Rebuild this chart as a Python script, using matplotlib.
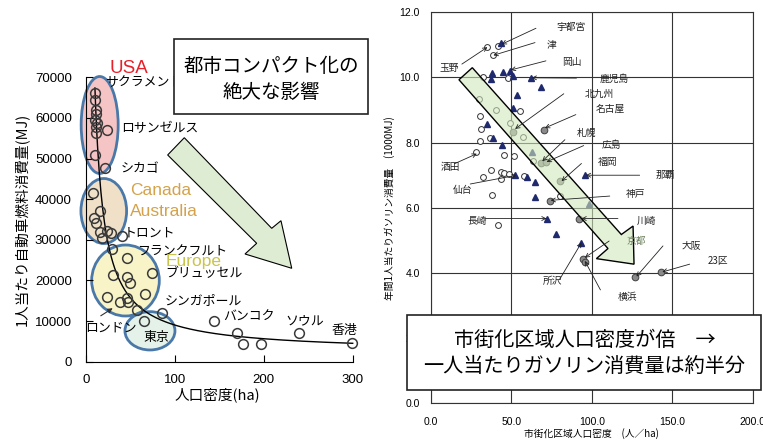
import matplotlib
matplotlib.use("Agg")
import numpy as np
import matplotlib.pyplot as plt
from matplotlib.patches import Ellipse, Polygon, Rectangle

plt.rcParams['font.family'] = ['Liberation Sans', 'Noto Sans CJK JP']
JP = ['Noto Sans CJK JP', 'DejaVu Sans']

# ---- 左: 世界の都市 (人口密度 ha, 1人当たり自動車燃料消費量 MJ)
usa_x = [10.4, 10.4, 11.2, 11.2, 10.4, 12.4, 11.2, 23.6, 11.2, 10.4, 22.0]
usa_y = [66200, 64300, 61950, 60960, 59490, 58830, 57840, 57030, 56210, 50870, 47700]
can_x = [8.6, 16.1, 9.5, 12.0, 16.1, 24.0, 28.0, 18.0, 40.4]
can_y = [41600, 37200, 35300, 34200, 32000, 32200, 31800, 30500, 31000]
eu_x = [29.2, 46.1, 74.2, 31.0, 46.1, 49.8, 23.6, 66.6, 38.5, 46.1, 47.9, 57.3]
eu_y = [27660, 25450, 21900, 21340, 20770, 19450, 15850, 16660, 14770, 15600, 14770, 12720]
asia_x = [65.5, 86.0, 144.2, 170.3, 176.4, 196.6, 240.0, 298.9]
asia_y = [10090, 11900, 10100, 6980, 4360, 4360, 7140, 4680]
trend_a, trend_c = 675000, 2280   # y = a/x + c

# ---- 右: 日本の都市 (市街化区域人口密度, 年間1人当たりガソリン消費量 1000MJ)
open_x = [35.1, 41.9, 38.8, 32.2, 48.1, 30.0, 40.5, 55.4, 30.2, 49.2, 31.0, 36.4, 57.4, 30.2,
          28.1, 45.7, 51.7, 63.2, 37.2, 32.2, 43.4, 45.7, 48.3, 43.4, 57.9, 37.8, 80.2, 41.8]
open_y = [10.95, 10.98, 10.68, 10.02, 9.99, 9.34, 9.01, 8.98, 8.83, 8.60, 8.42, 8.14, 8.16, 8.05,
          7.72, 7.62, 7.59, 7.44, 7.15, 6.95, 7.09, 7.06, 7.04, 6.87, 6.97, 6.38, 6.36, 5.48]
tri_x = [43.5, 37.8, 37.2, 45.0, 49.2, 51.2, 62.2, 68.4, 53.3, 51.2, 34.7, 38.8, 44.0, 62.6,
         52.3, 59.5, 64.7, 64.7, 95.7, 98.3, 71.9, 77.6, 93.2]
tri_y = [11.05, 10.15, 9.96, 10.18, 10.21, 10.05, 9.99, 9.70, 9.45, 9.06, 8.57, 8.14, 7.94, 7.70,
         7.00, 6.95, 6.79, 6.34, 7.00, 6.13, 5.67, 5.21, 4.92]
gray_x = [50.8, 70.2, 68.2, 71.5, 80.2, 74.0, 92.1, 94.6, 95.5, 126.7, 142.9]
gray_y = [8.33, 8.40, 7.36, 7.40, 6.81, 6.20, 5.67, 4.42, 4.35, 3.88, 4.02]

W, H = 763, 443
fig = plt.figure(figsize=(W / 100, H / 100), dpi=100)

# ================= 左パネル
ax1 = fig.add_axes([85.7 / W, 1 - 361.7 / H, 267 / W, 284.4 / H])
ax1.set_xlim(0, 300)
ax1.set_ylim(0, 70000)
for s in ['top', 'right']:
    ax1.spines[s].set_visible(False)
ax1.set_xticks([0, 100, 200, 300])
ax1.set_yticks(np.arange(0, 70001, 10000))
ax1.tick_params(direction='in', length=5, labelsize=9.5, color='black')
ax1.tick_params(axis='y', pad=10)
ax1.tick_params(axis='x', pad=9)
ax1.set_xlabel('人口密度(ha)', family=JP, fontsize=10.5)
ax1.xaxis.set_label_coords(0.494, -0.092)
ax1.set_ylabel('1人当たり自動車燃料消費量(MJ)', family=JP, fontsize=10.5)
ax1.yaxis.set_label_coords(-0.212, 0.5)

ell_edge = '#4a78a8'
for cx, cy, w, h, fc in [(15.7, 58260, 41.6, 23870, '#f5c4c4'),
                         (20.3, 37090, 51.3, 16000, '#f0e0c8'),
                         (44.7, 19985, 76.0, 17475, '#f8f4c8'),
                         (72.2, 7600, 56.2, 9430, '#e4f2ea')]:
    ax1.add_patch(Ellipse((cx, cy), w, h, facecolor=fc, edgecolor=ell_edge, lw=2.0,
                          zorder=1, clip_on=False))

xs = np.linspace(10.37, 300, 300)
ax1.plot(xs, trend_a / xs + trend_c, color='black', lw=1, zorder=2, clip_on=False)

for x, y in [(usa_x, usa_y), (can_x, can_y), (eu_x, eu_y), (asia_x, asia_y)]:
    ax1.plot(x, y, 'o', ms=7, mfc='none', mec='#3a3a3a', mew=1.1, zorder=3, clip_on=False)

left_labels = [('サクラメント', 21.7, 68720), ('ロサンゼルス', 39.3, 57270), ('シカゴ', 39.3, 47430),
               ('トロント', 43.0, 31680), ('フランクフルト', 57.6, 26880), ('ブリュッセル', 89.1, 21590),
               ('シンガポール', 89.1, 14940), ('ロンドン', -0.8, 8290), ('東京', 64.4, 5960),
               ('バンコク', 154.3, 10880), ('ソウル', 224.0, 10020), ('香港', 276.7, 7560)]
for t, x, y in left_labels:
    ax1.text(x, y, t, family=JP, fontsize=9.3, va='center', ha='left', zorder=4)
for t, x, y, c, fs in [('USA', 27.3, 72200, '#e8202a', 13.5), ('Canada', 49.8, 42140, '#d4a24a', 12.5),
                       ('Australia', 49.8, 36970, '#d4a24a', 12.5), ('Europe', 90.2, 24660, '#c9c44a', 12.5)]:
    ax1.text(x, y, t, color=c, fontsize=fs, va='center', ha='left', zorder=4)
ax1.annotate('', xy=(33, 13540), xytext=(14.3, 10930),
             arrowprops=dict(arrowstyle='-|>', color='#333', lw=0.8, mutation_scale=7), zorder=4)

big_arrow1 = [(92.1, 50880), (110.8, 55130), (209, 32830), (219.4, 34700), (231.5, 22990),
              (179, 26510), (192.1, 29140)]
ax1.add_patch(Polygon(big_arrow1, closed=True, facecolor='#ddecd2', edgecolor='black', lw=0.8,
                      zorder=2, clip_on=False))

# ================= 右パネル
ax2 = fig.add_axes([431 / W, 1 - 403.3 / H, 321.5 / W, 391 / H])
ax2.set_xlim(0, 200)
ax2.set_ylim(0, 12)
ax2.set_xticks(np.arange(0, 201, 50))
ax2.set_yticks(np.arange(0, 12.1, 2))
ax2.xaxis.set_major_formatter('{x:.1f}')
ax2.yaxis.set_major_formatter('{x:.1f}')
ax2.tick_params(length=0, labelsize=7.5)
ax2.tick_params(axis='y', pad=8)
ax2.tick_params(axis='x', pad=10)
ax2.grid(True, color='#333', lw=0.8)
ax2.set_axisbelow(True)
for s in ax2.spines.values():
    s.set_color('#333')
ax2.set_ylabel('年間1人当たりガソリン消費量　(1000MJ)', family=JP, fontsize=7)
ax2.yaxis.set_label_coords(-0.112, 0.5)
ax2.set_xlabel('市街化区域人口密度　(人／ha)', family=JP, fontsize=7)
ax2.xaxis.set_label_coords(0.5, -0.063)

ax2.plot(open_x, open_y, 'o', ms=4.2, mfc='white', mec='#333', mew=0.7, zorder=3)
ax2.plot(tri_x, tri_y, '^', ms=4.8, color='#1f2a6e', zorder=3)
ax2.plot(gray_x, gray_y, 'o', ms=4.8, mfc='#8a8a8a', mec='#404040', mew=0.7, zorder=3)

band = [(17.4, 9.93), (25.7, 10.30), (118.4, 5.18), (125.7, 5.44), (126.3, 4.27),
        (102.9, 4.44), (110.1, 4.75)]
ax2.add_patch(Polygon(band, closed=True, facecolor=(0.82, 0.91, 0.74, 0.6), edgecolor='black',
                      lw=1, zorder=4))

right_labels = [
    ('宇都宮', 77.7, 11.56, (65.3, 11.51), (44.0, 11.02)),
    ('津', 71.9, 11.00, (64.7, 11.07), (38.8, 10.68)),
    ('岡山', 81.8, 10.49, (71.5, 10.51), (49.6, 10.23)),
    ('玉野', 5.4, 10.29, (19.2, 10.41), (35.1, 10.93)),
    ('鹿児島', 105.0, 9.96, (90.5, 9.98), (62.6, 9.99)),
    ('北九州', 95.7, 9.49, (82.6, 9.50), (52.3, 8.42)),
    ('名古屋', 102.5, 9.04, (90.1, 8.86), (70.9, 8.45)),
    ('札幌', 90.5, 8.30, (83.3, 8.09), (69.2, 7.43)),
    ('広島', 106.0, 7.92, (95.0, 7.91), (71.9, 7.41)),
    ('福岡', 103.9, 7.41, (93.6, 7.36), (81.2, 6.82)),
    ('那覇', 140.0, 7.00, (129.8, 7.00), (96.3, 7.00)),
    ('神戸', 121.5, 6.41, (111.2, 6.36), (74.4, 6.23)),
    ('酒田', 6.2, 7.24, (14.5, 7.35), (28.5, 7.66)),
    ('仙台', 13.6, 6.56, (24.4, 6.73), (53.3, 7.00)),
    ('長崎', 22.6, 5.61, (33.5, 5.67), (71.9, 5.67)),
    ('川崎', 127.8, 5.61, (116.3, 5.67), (93.6, 5.67)),
    ('京都', 121.5, 4.98, (110.8, 4.98), (95.7, 4.47)),
    ('所沢', 69.8, 3.75, (80.1, 3.81), (93.6, 4.93)),
    ('横浜', 116.4, 3.25, (105.4, 3.48), (95.7, 4.37)),
    ('大阪', 155.7, 4.83, (144.3, 4.83), (127.8, 3.89)),
    ('23区', 172.2, 4.37, (160.9, 4.27), (143.9, 4.03)),
]
for t, tx, ty, start, end in right_labels:
    col = '#6a7f5a' if t == '京都' else '#222'
    ax2.text(tx, ty, t, family=JP, fontsize=7, color=col, va='center', ha='left', zorder=5)
    ax2.annotate('', xy=end, xytext=start, zorder=5,
                 arrowprops=dict(arrowstyle='->', color='#222', lw=0.6, mutation_scale=7,
                                 shrinkA=0, shrinkB=0))

# ================= テキストボックス
def frect(x0, y0, x1, y1):
    return Rectangle((x0 / W, 1 - y1 / H), (x1 - x0) / W, (y1 - y0) / H, transform=fig.transFigure,
                     facecolor='white', edgecolor='#222', lw=1.2, zorder=10)

fig.add_artist(frect(174, 39, 368, 114))
fig.text(271 / W, 1 - 66 / H, '都市コンパクト化の', family=JP, fontsize=14, ha='center', va='center', zorder=11)
fig.text(271 / W, 1 - 93 / H, '絶大な影響', family=JP, fontsize=14, ha='center', va='center', zorder=11)

fig.add_artist(frect(406.7, 315, 761, 390))
fig.text(585 / W, 1 - 340 / H, '市街化区域人口密度が倍　→', family=JP, fontsize=14.5, ha='center', va='center', zorder=11)
fig.text(584 / W, 1 - 366.7 / H, '一人当たりガソリン消費量は約半分', family=JP, fontsize=14.5, ha='center', va='center', zorder=11)

fig.savefig('out.png', dpi=100)
